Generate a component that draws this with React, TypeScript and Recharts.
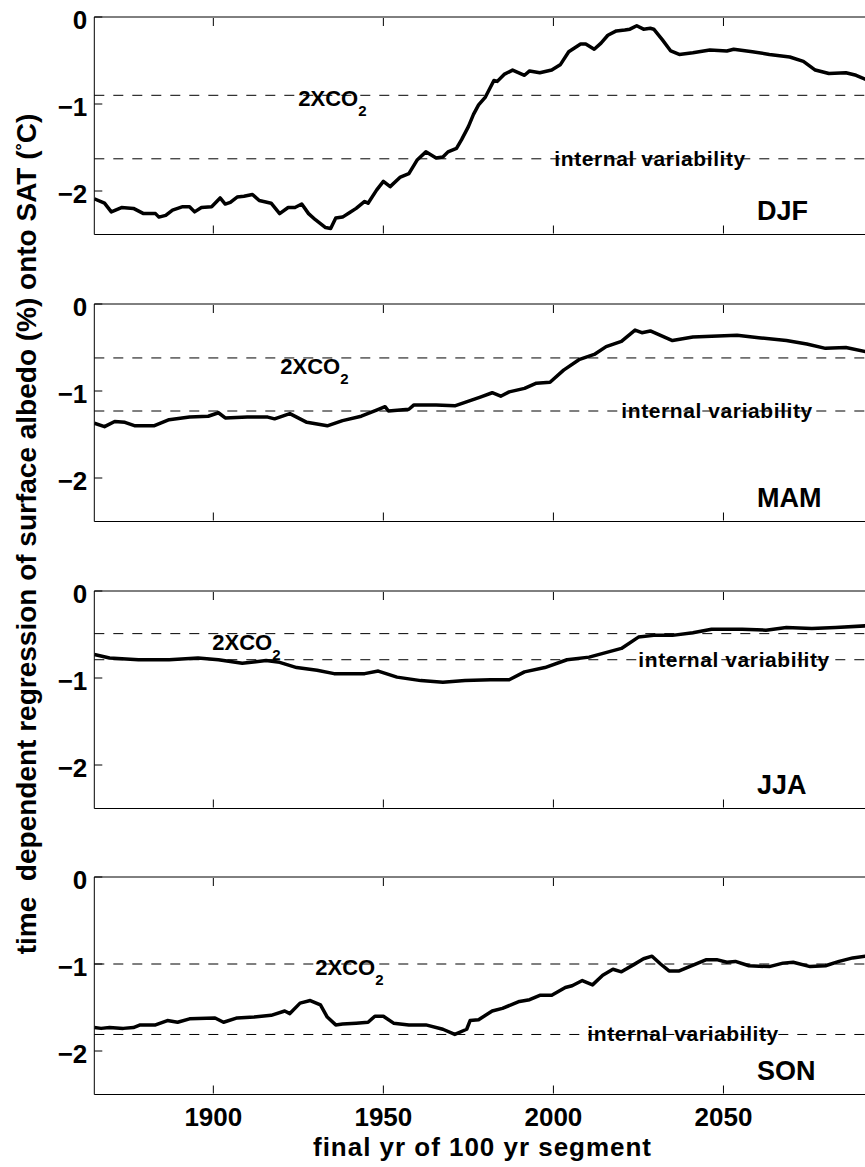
import { LineChart, Line, XAxis, YAxis, ReferenceLine } from 'recharts';

const X_TICKS = [1900, 1950, 2000, 2050];
const Y_TICKS = [-2, -1, 0];
const SEASONS = ['DJF', 'MAM', 'JJA', 'SON'];
const CO2_LEVELS = [-0.9, -0.62, -0.49, -1.0];
const INTERNAL_LEVELS = [-1.63, -1.23, -0.79, -1.81];

const DJF_YEARS = [
  1865, 1868, 1870, 1873, 1876.5, 1879.5, 1883, 1884, 1886, 1888,
  1891, 1893, 1894.5, 1896.5, 1899.5, 1902, 1903.5, 1905, 1907, 1909,
  1911.5, 1913.5, 1917, 1919.5, 1922, 1924, 1926, 1928, 1930, 1933,
  1934.5, 1936, 1938, 1940, 1942, 1944.5, 1945.5, 1948, 1950, 1952,
  1955, 1957.5, 1960, 1962.5, 1965.5, 1967.5, 1969, 1971.5, 1973, 1975,
  1976.5, 1978, 1980, 1982.5, 1983.5, 1985.5, 1988, 1991.5, 1993, 1996,
  1999.5, 2002, 2004.5, 2008, 2009.5, 2012, 2014, 2016, 2018.5, 2021,
  2022.5, 2024.5, 2026.5, 2028.5, 2029.5, 2032, 2034.5, 2037, 2041, 2046,
  2051, 2053, 2058.5, 2063.5, 2069.5, 2073.5, 2077, 2081, 2086, 2089, 2092,
];
const DJF_VALUES = [
  -2.09, -2.14, -2.24, -2.19, -2.2, -2.26, -2.26, -2.3, -2.28, -2.22,
  -2.18, -2.18, -2.24, -2.19, -2.18, -2.08, -2.15, -2.13, -2.07, -2.06,
  -2.04, -2.11, -2.14, -2.26, -2.19, -2.19, -2.15, -2.26, -2.33, -2.42,
  -2.43, -2.31, -2.3, -2.25, -2.2, -2.12, -2.14, -1.99, -1.89, -1.95,
  -1.84, -1.8, -1.64, -1.55, -1.62, -1.61, -1.55, -1.51, -1.41, -1.26,
  -1.12, -1.01, -0.92, -0.73, -0.74, -0.66, -0.61, -0.67, -0.62, -0.64,
  -0.61, -0.55, -0.4, -0.31, -0.31, -0.37, -0.3, -0.21, -0.16, -0.15,
  -0.14, -0.1, -0.14, -0.13, -0.14, -0.26, -0.39, -0.43, -0.41, -0.38,
  -0.39, -0.37, -0.4, -0.43, -0.46, -0.51, -0.61, -0.65, -0.64, -0.67, -0.72,
];

const MAM_YEARS = [
  1865, 1868, 1871, 1874, 1877, 1882.5, 1887, 1893, 1898.5, 1901.5,
  1903.5, 1910, 1916, 1918, 1922.5, 1927.5, 1933.5, 1938, 1943.5, 1948,
  1950.5, 1951.5, 1957.5, 1959, 1965.5, 1971, 1974, 1978.5, 1982, 1984.5,
  1987, 1991.5, 1995, 1999, 2003, 2007.5, 2012, 2015.5, 2020, 2024,
  2026, 2028.5, 2035, 2041, 2046.5, 2054, 2061, 2068.5, 2074.5, 2080, 2086, 2092,
];
const MAM_VALUES = [
  -1.37, -1.41, -1.35, -1.36, -1.4, -1.4, -1.33, -1.3, -1.29, -1.25,
  -1.31, -1.3, -1.3, -1.32, -1.26, -1.36, -1.4, -1.34, -1.29, -1.22,
  -1.18, -1.23, -1.21, -1.16, -1.16, -1.17, -1.13, -1.07, -1.02, -1.06,
  -1.01, -0.97, -0.91, -0.9, -0.76, -0.64, -0.58, -0.49, -0.43, -0.3,
  -0.33, -0.31, -0.42, -0.38, -0.37, -0.36, -0.39, -0.42, -0.46, -0.51, -0.5, -0.55,
];

const JJA_YEARS = [
  1865, 1869.5, 1878, 1887, 1895.5, 1901.5, 1908.5, 1915.5, 1919.5, 1924.5,
  1930.5, 1935.5, 1944.5, 1948.5, 1954, 1961, 1967.5, 1974, 1981.5, 1987,
  1991.5, 1997.5, 2004, 2010.5, 2020, 2025, 2029.5, 2035, 2041, 2046.5,
  2055.5, 2062.5, 2068.5, 2076, 2083, 2092,
];
const JJA_VALUES = [
  -0.73, -0.77, -0.79, -0.79, -0.77, -0.79, -0.83, -0.8, -0.82, -0.88,
  -0.91, -0.95, -0.95, -0.92, -0.99, -1.03, -1.05, -1.03, -1.02, -1.02,
  -0.93, -0.88, -0.79, -0.76, -0.66, -0.53, -0.51, -0.51, -0.48, -0.44,
  -0.44, -0.45, -0.42, -0.43, -0.42, -0.4,
];

const SON_YEARS = [
  1865, 1867, 1869.5, 1873.5, 1876.5, 1878.5, 1883, 1886.5, 1889.5, 1893,
  1900.5, 1903, 1907, 1912, 1917, 1921, 1922.5, 1925.5, 1928.5, 1931.5,
  1933.5, 1936, 1938, 1942, 1945.5, 1947.5, 1950, 1953, 1957.5, 1962.5,
  1967.5, 1971, 1974.5, 1975.5, 1978, 1982, 1985, 1990, 1993, 1996,
  1999.5, 2003.5, 2005.5, 2008.5, 2011.5, 2014.5, 2017.5, 2020, 2023.5, 2026.5,
  2029, 2031.5, 2034, 2037, 2040, 2045, 2048, 2051, 2053.5, 2057.5,
  2063.5, 2067.5, 2070.5, 2075.5, 2080, 2084, 2088, 2092,
];
const SON_VALUES = [
  -1.73, -1.74, -1.73, -1.74, -1.73, -1.7, -1.7, -1.65, -1.67, -1.63,
  -1.62, -1.67, -1.62, -1.61, -1.59, -1.54, -1.57, -1.45, -1.42, -1.47,
  -1.61, -1.7, -1.69, -1.68, -1.67, -1.6, -1.6, -1.68, -1.7, -1.7,
  -1.75, -1.81, -1.75, -1.65, -1.64, -1.54, -1.51, -1.43, -1.41, -1.36,
  -1.36, -1.27, -1.25, -1.19, -1.24, -1.13, -1.06, -1.09, -1.01, -0.94,
  -0.91, -1.0, -1.08, -1.08, -1.03, -0.95, -0.95, -0.98, -0.97, -1.02,
  -1.03, -0.99, -0.98, -1.03, -1.02, -0.97, -0.93, -0.91,
];

const SERIES = [
  { years: DJF_YEARS, values: DJF_VALUES },
  { years: MAM_YEARS, values: MAM_VALUES },
  { years: JJA_YEARS, values: JJA_VALUES },
  { years: SON_YEARS, values: SON_VALUES },
];

// layout
const FONT = '"Liberation Sans", Arial, Helvetica, sans-serif';
const PAGE_W = 865;
const PAGE_H = 1167;
const CHART_W = 900; // plot runs past the right edge, page clips it like the original
const PLOT_LEFT = 94.3;
const PLOT_RIGHT = 893.5;
const PLOT_H = 217.5;
const PANEL_TOPS = [17, 304, 591, 877];
const PAD_TOP = 14;
const AXIS_H = 1;
const TICK_LEN = 8;

// label offsets: dx from plot left edge, dy from the dashed line
const CO2_LABEL_POS = [
  { dx: 204, dy: 10.5 },
  { dx: 186, dy: 16 },
  { dx: 118, dy: 16.5 },
  { dx: 221, dy: 11 },
];
const INTERNAL_LABEL_POS = [
  { dx: 460, dy: 7 },
  { dx: 527, dy: 7 },
  { dx: 544, dy: 7.5 },
  { dx: 493, dy: 6.5 },
];

const fmtY = (v: number) => (v < 0 ? `\u2212${Math.abs(v)}` : `${v}`);

const YTick = (props: any) => {
  const { y, payload } = props;
  return (
    <g>
      <line x1={PLOT_LEFT} x2={PLOT_LEFT + TICK_LEN} y1={y} y2={y} stroke="#000" strokeWidth={1} />
      <text x={PLOT_LEFT - 7} y={y + 12} textAnchor="end" fontFamily={FONT} fontWeight="bold" fontSize={26} fill="#000">
        {fmtY(payload.value)}
      </text>
    </g>
  );
};

const TopTick = (props: any) => {
  const { x, y } = props;
  return <line x1={x} x2={x} y1={y + AXIS_H} y2={y + AXIS_H + TICK_LEN} stroke="#000" strokeWidth={1} />;
};

const makeBottomTick = (showLabel: boolean) => (props: any) => {
  const { x, y, payload } = props;
  const base = y - AXIS_H;
  return (
    <g>
      <line x1={x} x2={x} y1={base} y2={base - TICK_LEN} stroke="#000" strokeWidth={1} />
      {showLabel && (
        <text x={x} y={base + 32} textAnchor="middle" fontFamily={FONT} fontWeight="bold" fontSize={26} fill="#000">
          {payload.value}
        </text>
      )}
    </g>
  );
};

const co2Label = (i: number) => (p: any) => {
  const { x, y } = p.viewBox;
  return (
    <text x={x + CO2_LABEL_POS[i].dx} y={y + CO2_LABEL_POS[i].dy} fontFamily={FONT} fontWeight="bold" fontSize={22} fill="#000">
      2XCO
      <tspan dy={10} fontSize={15}>2</tspan>
    </text>
  );
};

const internalLabel = (i: number) => (p: any) => {
  const { x, y } = p.viewBox;
  return (
    <text
      x={x + INTERNAL_LABEL_POS[i].dx}
      y={y + INTERNAL_LABEL_POS[i].dy}
      fontFamily={FONT}
      fontWeight="bold"
      fontSize={21}
      textLength={191}
      fill="#000"
    >
      internal variability
    </text>
  );
};

function Panel({ i }: { i: number }) {
  const { years, values } = SERIES[i];
  const data = years.map((year, k) => ({ year, value: values[k] }));
  const last = i === SERIES.length - 1;
  const bottomPad = last ? 70 : 14;
  return (
    <div style={{ position: 'absolute', left: 0, top: PANEL_TOPS[i] - PAD_TOP }}>
      <LineChart
        width={CHART_W}
        height={PAD_TOP + PLOT_H + bottomPad}
        data={data}
        margin={{
          top: PAD_TOP - AXIS_H,
          right: CHART_W - PLOT_RIGHT,
          bottom: bottomPad - AXIS_H,
          left: PLOT_LEFT - 60,
        }}
      >
        <XAxis
          dataKey="year"
          type="number"
          domain={[1865, 2100]}
          ticks={X_TICKS}
          interval={0}
          allowDataOverflow
          height={AXIS_H}
          tickSize={0}
          tickMargin={0}
          axisLine={{ stroke: '#000', strokeWidth: 1 }}
          tickLine={false}
          tick={makeBottomTick(last)}
        />
        <XAxis
          xAxisId="top"
          orientation="top"
          dataKey="year"
          type="number"
          domain={[1865, 2100]}
          ticks={X_TICKS}
          interval={0}
          allowDataOverflow
          height={AXIS_H}
          tickSize={0}
          tickMargin={0}
          axisLine={{ stroke: '#000', strokeWidth: 1 }}
          tickLine={false}
          tick={TopTick}
        />
        <YAxis
          type="number"
          domain={[-2.5, 0]}
          ticks={Y_TICKS}
          interval={0}
          allowDataOverflow
          width={60}
          tickSize={0}
          tickMargin={7}
          axisLine={{ stroke: '#000', strokeWidth: 1 }}
          tickLine={false}
          tick={YTick}
        />
        <ReferenceLine y={CO2_LEVELS[i]} stroke="#000" strokeWidth={1} strokeDasharray="10 9" label={{ content: co2Label(i) }} />
        <ReferenceLine
          y={INTERNAL_LEVELS[i]}
          stroke="#000"
          strokeWidth={1}
          strokeDasharray="10 9"
          label={{ content: internalLabel(i) }}
        />
        <Line
          dataKey="value"
          type="linear"
          stroke="#000"
          strokeWidth={3.5}
          strokeLinejoin="round"
          dot={false}
          activeDot={false}
          isAnimationActive={false}
        />
      </LineChart>
    </div>
  );
}

export default function App() {
  return (
    <div
      style={{
        position: 'absolute',
        left: 0,
        top: 0,
        width: PAGE_W,
        height: PAGE_H,
        overflow: 'hidden',
        background: '#fff',
      }}
    >
      {SERIES.map((_, i) => (
        <Panel key={SEASONS[i]} i={i} />
      ))}
      <svg
        width={PAGE_W}
        height={PAGE_H}
        style={{ position: 'absolute', left: 0, top: 0, pointerEvents: 'none' }}
      >
        {SEASONS.map((s, i) => (
          <text
            key={s}
            x={757}
            y={PANEL_TOPS[i] + PLOT_H - 15}
            fontFamily={FONT}
            fontWeight="bold"
            fontSize={27}
            fill="#000"
          >
            {s}
          </text>
        ))}
        <text
          x={482}
          y={1156}
          textAnchor="middle"
          fontFamily={FONT}
          fontWeight="bold"
          fontSize={26}
          textLength={338}
          fill="#000"
        >
          final yr of 100 yr segment
        </text>
        <text
          transform="translate(36,534) rotate(-90)"
          textAnchor="middle"
          fontFamily={FONT}
          fontWeight="bold"
          fontSize={28}
          fill="#000"
          style={{ whiteSpace: 'pre' }}
        >
          {'time  dependent regression of surface albedo (%) onto SAT ('}
          <tspan fontSize={18} dy={-8}>°</tspan>
          <tspan dy={8}>C)</tspan>
        </text>
      </svg>
    </div>
  );
}
